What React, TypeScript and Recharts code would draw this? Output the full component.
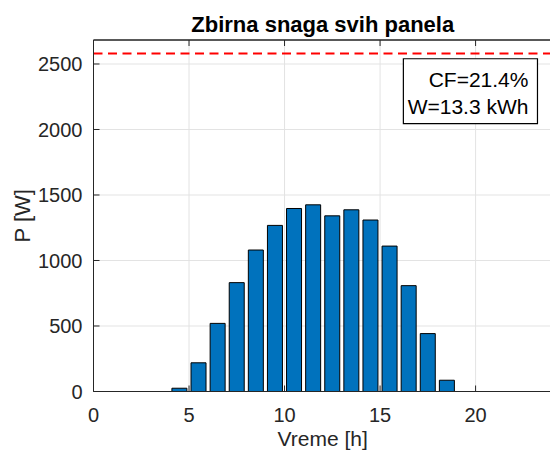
import {
  ComposedChart,
  Bar,
  XAxis,
  YAxis,
  CartesianGrid,
  ReferenceLine,
  ReferenceArea,
} from 'recharts';

const hourStart = [4, 5, 6, 7, 8, 9, 10, 11, 12, 13, 14, 15, 16, 17, 18];
const powerW = [25, 219, 520, 831, 1080, 1268, 1397, 1425, 1341, 1387, 1309, 1110, 808, 442, 86];
const xTicks = [0, 5, 10, 15, 20];
const yTicks = [0, 500, 1000, 1500, 2000, 2500];
const peakPower = 2580;
const statLines = ['CF=21.4%', 'W=13.3 kWh'];

const FONT = '"Liberation Sans", Arial, Helvetica, sans-serif';
const AXIS = '#262626';

const data = hourStart.map((h, i) => ({ x: h + 0.5, p: powerW[i] }));
const yMax = peakPower * 1.04;

const tickStyle = { fill: AXIS, fontSize: 20, fontFamily: FONT };
const blank = () => '';

export default function App() {
  return (
    <div style={{ position: 'absolute', left: 0, top: 0, width: 550, height: 453, overflow: 'hidden', background: '#fff' }}>
      <ComposedChart
        width={552}
        height={453}
        data={data}
        margin={{ top: 39, right: 0, left: 0, bottom: 0 }}
      >
        <CartesianGrid stroke="#e3e3e3" strokeWidth={1} />
        <XAxis
          dataKey="x"
          type="number"
          domain={[0, 24]}
          ticks={xTicks}
          allowDataOverflow
          height={61.5}
          stroke={AXIS}
          tickSize={-6}
          tickMargin={22}
          tick={tickStyle}
          label={{
            value: 'Vreme [h]',
            position: 'insideTop',
            offset: 40,
            fill: AXIS,
            fontSize: 21,
            fontFamily: FONT,
          }}
        />
        <XAxis
          xAxisId="top"
          dataKey="x"
          orientation="top"
          type="number"
          domain={[0, 24]}
          ticks={xTicks}
          allowDataOverflow
          height={1}
          stroke={AXIS}
          tickSize={-6}
          tickFormatter={blank}
        />
        <YAxis
          type="number"
          domain={[0, yMax]}
          ticks={yTicks}
          allowDataOverflow
          width={93.5}
          stroke={AXIS}
          tickSize={-6}
          tickMargin={17}
          tick={tickStyle}
          label={{
            content: ({ viewBox }: any) => (
              <text
                transform="rotate(-90)"
                x={-(viewBox.y + viewBox.height / 2)}
                y={30}
                textAnchor="middle"
                fill={AXIS}
                fontSize={22}
                fontFamily={FONT}
              >
                P [W]
              </text>
            ),
          }}
        />
        <YAxis
          yAxisId="right"
          orientation="right"
          type="number"
          domain={[0, yMax]}
          ticks={yTicks}
          allowDataOverflow
          width={0}
          stroke={AXIS}
          tickSize={-6}
          tickFormatter={blank}
        />
        <Bar
          dataKey="p"
          fill="#0072BD"
          stroke="#000"
          strokeWidth={1}
          barSize={15}
          isAnimationActive={false}
        />
        <ReferenceLine
          y={yMax}
          stroke={AXIS}
          strokeWidth={1}
          ifOverflow="visible"
          label={{
            value: 'Zbirna snaga svih panela',
            position: 'top',
            offset: 8.5,
            fill: '#000',
            fontSize: 22,
            fontWeight: 'bold',
            fontFamily: FONT,
          }}
        />
        <ReferenceLine x={24} stroke={AXIS} strokeWidth={1} ifOverflow="visible" />
        <ReferenceLine
          y={peakPower}
          stroke="#ff0000"
          strokeWidth={2}
          strokeDasharray="9 5.5"
        />
        <ReferenceArea
          x1={16.22}
          x2={23.24}
          y1={2045}
          y2={2540}
          fill="#fff"
          fillOpacity={1}
          stroke="#000"
          strokeWidth={1.2}
          label={{
            content: ({ viewBox }: any) => (
              <g fontFamily={FONT} fontSize={21} fill="#000" textAnchor="end">
                {statLines.map((s, i) => (
                  <text key={s} x={viewBox.x + viewBox.width - 9} y={viewBox.y + 28.5 + i * 26.6}>
                    {s}
                  </text>
                ))}
              </g>
            ),
          }}
        />
      </ComposedChart>
    </div>
  );
}
